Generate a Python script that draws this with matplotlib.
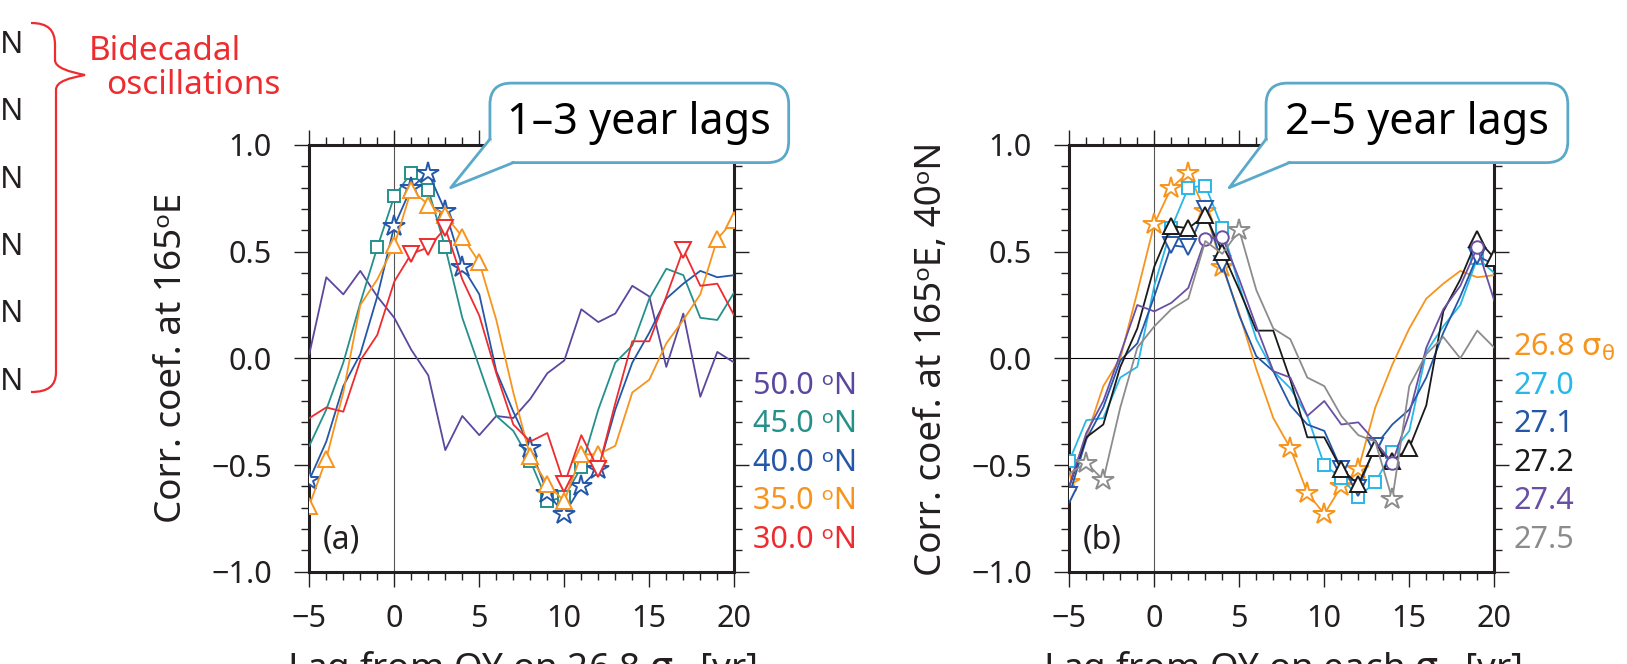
import matplotlib
matplotlib.use("Agg")
import matplotlib.pyplot as plt
from matplotlib.patches import FancyBboxPatch, Polygon, PathPatch
from matplotlib.path import Path
from matplotlib.lines import Line2D
from matplotlib.ticker import MultipleLocator

plt.rcParams['font.family'] = ['Noto Sans', 'DejaVu Sans']
plt.rcParams['mathtext.fontset'] = 'dejavusans'

lags = list(range(-5, 21))

# ---- panel (a): lagged correlation at 165E on 26.8 sigma-theta, by latitude
lat_labels = ["50.0 ᵒN", "45.0 ᵒN", "40.0 ᵒN", "35.0 ᵒN", "30.0 ᵒN"]
lat_colors = ["#5b479e", "#25908a", "#2457a8", "#f7941d", "#ee2b2e"]
lat_markers = [None, "s", "*", "^", "v"]
corr_50N = [0.02, 0.38, 0.30, 0.41, 0.29, 0.19, 0.04, -0.08, -0.43, -0.27, -0.36, -0.27, -0.28,
            -0.19, -0.07, -0.01, 0.23, 0.17, 0.21, 0.34, 0.29, -0.04, 0.21, -0.18, 0.03, -0.02]
corr_45N = [-0.41, -0.24, -0.02, 0.26, 0.52, 0.76, 0.87, 0.79, 0.52, 0.19, -0.04, -0.27, -0.34,
            -0.48, -0.67, -0.65, -0.51, -0.24, -0.02, 0.06, 0.28, 0.42, 0.39, 0.19, 0.18, 0.31]
corr_40N = [-0.57, -0.39, -0.13, 0.02, 0.29, 0.62, 0.80, 0.87, 0.69, 0.43, 0.30, -0.06, -0.25,
            -0.42, -0.63, -0.73, -0.60, -0.52, -0.24, -0.02, 0.12, 0.28, 0.35, 0.41, 0.38, 0.39]
corr_35N = [-0.69, -0.47, -0.16, 0.25, 0.37, 0.53, 0.79, 0.72, 0.67, 0.57, 0.45, 0.18, -0.16,
            -0.46, -0.59, -0.67, -0.45, -0.45, -0.41, -0.16, -0.10, 0.07, 0.18, 0.30, 0.56, 0.65]
corr_30N = [-0.28, -0.23, -0.25, -0.01, 0.11, 0.36, 0.49, 0.52, 0.61, 0.37, 0.20, -0.07, -0.31,
            -0.39, -0.35, -0.59, -0.36, -0.52, -0.21, 0.08, 0.08, 0.29, 0.51, 0.34, 0.35, 0.20]
lat_series = [corr_50N, corr_45N, corr_40N, corr_35N, corr_30N]
# lags where the correlation is marked (significant)
lat_marked = [[], [-1, 0, 1, 2, 3, 8, 9, 10, 11],
              [-5, 0, 1, 2, 3, 4, 8, 9, 10, 11, 12],
              [-5, -4, 0, 1, 2, 3, 4, 5, 8, 9, 10, 11, 12, 19, 20],
              [1, 2, 3, 10, 12, 17]]

# ---- panel (b): lagged correlation at 165E, 40N, by density surface
sig_labels = ["26.8 $\\mathrm{\\sigma}_{\\mathrm{\\theta}}$", "27.0", "27.1", "27.2", "27.4", "27.5"]
sig_colors = ["#f7941d", "#27b7e9", "#2457a8", "#1a1a1a", "#6a50a4", "#8c8c8c"]
sig_markers = ["*", "s", "v", "^", "o", "*"]
corr_268 = [-0.58, -0.37, -0.13, 0.00, 0.31, 0.63, 0.80, 0.87, 0.69, 0.43, 0.21, -0.05, -0.28,
            -0.42, -0.63, -0.73, -0.60, -0.52, -0.23, -0.03, 0.14, 0.28, 0.35, 0.41, 0.38, 0.39]
corr_270 = [-0.48, -0.29, -0.28, -0.09, -0.04, 0.34, 0.61, 0.80, 0.81, 0.61, 0.34, 0.09, -0.06,
            -0.14, -0.27, -0.50, -0.56, -0.65, -0.58, -0.44, -0.34, 0.03, 0.15, 0.25, 0.47, 0.40]
corr_271 = [-0.64, -0.38, -0.23, -0.01, 0.07, 0.29, 0.53, 0.52, 0.70, 0.44, 0.20, 0.01, -0.06,
            -0.22, -0.31, -0.34, -0.52, -0.61, -0.41, -0.31, -0.24, -0.09, 0.12, 0.29, 0.48, 0.44]
corr_272 = [-0.60, -0.37, -0.31, -0.04, 0.14, 0.43, 0.62, 0.61, 0.67, 0.50, 0.32, 0.13, 0.13,
            -0.10, -0.37, -0.37, -0.52, -0.59, -0.42, -0.48, -0.42, -0.22, 0.22, 0.37, 0.56, 0.47]
corr_274 = [-0.60, -0.35, -0.20, 0.02, 0.25, 0.22, 0.26, 0.33, 0.56, 0.57, 0.37, 0.15, -0.06,
            -0.09, -0.27, -0.20, -0.31, -0.30, -0.39, -0.49, -0.26, 0.05, 0.23, 0.34, 0.52, 0.27]
corr_275 = [-0.54, -0.49, -0.57, -0.23, 0.05, 0.15, 0.23, 0.28, 0.55, 0.49, 0.60, 0.32, 0.14,
            0.09, -0.09, -0.13, -0.27, -0.36, -0.39, -0.66, -0.13, 0.02, 0.10, 0.00, 0.13, 0.05]
sig_series = [corr_268, corr_270, corr_271, corr_272, corr_274, corr_275]
sig_marked = [[-5, 0, 1, 2, 3, 4, 8, 9, 10, 11, 12],
              [-5, 1, 2, 3, 4, 10, 11, 12, 13, 14, 19],
              [-5, 1, 2, 3, 4, 11, 12, 13, 19],
              [1, 2, 3, 4, 11, 12, 13, 14, 15, 19, 20],
              [3, 4, 14, 19],
              [-4, -3, 5, 14]]

callout_color = "#5aa9c9"
text_color = "#231f20"
W, H = 1627, 664


def setup_axes(ax, ylabel, xlabel, tag):
    ax.set_xlim(-5, 20)
    ax.set_ylim(-1, 1)
    ax.set_xticks([-5, 0, 5, 10, 15, 20])
    ax.set_yticks([-1, -0.5, 0, 0.5, 1])
    ax.xaxis.set_minor_locator(MultipleLocator(1))
    ax.yaxis.set_minor_locator(MultipleLocator(0.1))
    ax.tick_params(which='both', direction='out', top=True, right=True, width=1, colors=text_color)
    ax.tick_params(which='major', length=11, labelsize=22)
    ax.tick_params(which='minor', length=5.5)
    ax.tick_params(axis='y', pad=16)
    ax.tick_params(axis='x', pad=12)
    for s in ax.spines.values():
        s.set_linewidth(2.2)
        s.set_color(text_color)
    ax.axhline(0, color='k', lw=0.8, zorder=1)
    ax.axvline(0, color='#555555', lw=0.8, zorder=1)
    ax.set_ylabel(ylabel, fontsize=26.5, color=text_color)
    ax.yaxis.set_label_coords(-0.28, 0.5)
    ax.set_xlabel(xlabel, fontsize=26.5, color=text_color)
    ax.xaxis.set_label_coords(0.5, -0.18)
    ax.text(-4.2, -0.85, tag, fontsize=23, va='center', ha='left', color=text_color)


def plot_series(ax, series, colors, markers, marked):
    for vals, c, m, mk in zip(series, colors, markers, marked):
        idx = [lags.index(v) for v in mk]
        ax.plot(lags, vals, color=c, lw=1.3, marker=m if m else None,
                markevery=idx if m else None, mfc='white', mec=c, mew=1.4,
                ms={"*": 16, "s": 9, "^": 11, "v": 11, "o": 9}.get(m, 0), zorder=3)


def side_labels(ax, labels, colors, y_start):
    for i, (lab, c) in enumerate(zip(labels, colors)):
        ax.text(1.045, y_start - 0.18 * i, lab, color=c, fontsize=22, va='center',
                ha='left', transform=ax.get_yaxis_transform())


def callout(ax, text, x0, x1, tip):
    y0, y1, r = 0.9587, 1.145, 0.05
    box = FancyBboxPatch((x0, y0), x1 - x0, y1 - y0,
                         boxstyle="round,pad=0,rounding_size=%g" % r,
                         transform=ax.transAxes, fc='white', ec=callout_color, lw=2,
                         clip_on=False, zorder=10)
    ax.add_patch(box)
    tx, ty = ax.transAxes.inverted().transform(ax.transData.transform(tip))
    b1 = (x0, y0 + r + 0.005)
    b2 = (x0 + r + 0.005, y0)
    ax.add_patch(Polygon([b1, (tx, ty), b2, (x0 + 0.02, y0 + 0.02)], closed=True,
                         transform=ax.transAxes, fc='white', ec='none',
                         clip_on=False, zorder=11))
    ax.add_line(Line2D([b1[0], tx, b2[0]], [b1[1], ty, b2[1]], transform=ax.transAxes,
                       color=callout_color, lw=2, clip_on=False, zorder=12))
    ax.text((x0 + x1) / 2, (y0 + y1) / 2, text, transform=ax.transAxes, ha='center',
            va='center', fontsize=31, color='black', zorder=13)


fig = plt.figure(figsize=(W / 100, H / 100), dpi=100)
ax_a = fig.add_axes([309.3 / W, 92.3 / H, 425 / W, 426.7 / H])
ax_b = fig.add_axes([1069.3 / W, 92.3 / H, 425 / W, 426.7 / H])

setup_axes(ax_a, "Corr. coef. at 165ᵒE",
           "Lag from OY on 26.8 $\\mathrm{\\sigma}_{\\mathrm{\\theta}}$ [yr]", "(a)")
setup_axes(ax_b, "Corr. coef. at 165ᵒE, 40ᵒN",
           "Lag from OY on each $\\mathrm{\\sigma}_{\\mathrm{\\theta}}$ [yr]", "(b)")

plot_series(ax_a, lat_series, lat_colors, lat_markers, lat_marked)
plot_series(ax_b, sig_series, sig_colors, sig_markers, sig_marked)

side_labels(ax_a, lat_labels, lat_colors, -0.13)
side_labels(ax_b, sig_labels, sig_colors, 0.05)

callout(ax_a, "1–3 year lags", 0.425, 1.128, (3.32, 0.80))
callout(ax_b, "2–5 year lags", 0.463, 1.173, (4.41, 0.80))

# remnants of the neighbouring panel on the left edge
for i in range(6):
    fig.text(24 / W, 1 - (45 + 67.3 * i) / H, "ᵒN", fontsize=22, ha='right', va='center',
             color=text_color)

brace_pts = [(31, 23), (48, 23), (55, 30), (55, 45), (55, 60), (55, 68), (70, 72), (85, 75),
             (70, 78), (56, 81), (56, 90), (56, 372), (56, 386), (48, 392), (31, 392)]
brace_codes = [Path.MOVETO, Path.CURVE4, Path.CURVE4, Path.CURVE4, Path.LINETO,
               Path.CURVE4, Path.CURVE4, Path.CURVE4, Path.CURVE4, Path.CURVE4, Path.CURVE4,
               Path.LINETO, Path.CURVE4, Path.CURVE4, Path.CURVE4]
brace = Path([(x / W, 1 - y / H) for x, y in brace_pts], brace_codes)
fig.patches.append(PathPatch(brace, transform=fig.transFigure, fc='none', ec='#ee2b2e', lw=1.6))
fig.text(165 / W, 1 - 52 / H, "Bidecadal", color='#ee2b2e', fontsize=24, ha='center', va='center')
fig.text(193 / W, 1 - 86 / H, "oscillations", color='#ee2b2e', fontsize=24, ha='center', va='center')

fig.savefig("out.png", dpi=100)
